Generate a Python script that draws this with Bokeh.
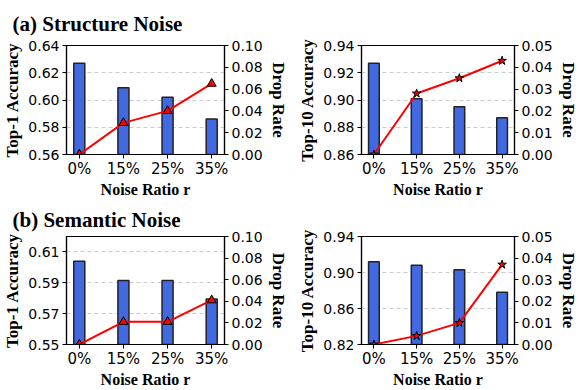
from bokeh.plotting import figure
from bokeh.models import Range1d, LinearAxis, FixedTicker, NumeralTickFormatter, ColumnDataSource, Title
from bokeh.layouts import column, row
from bokeh.embed import file_html
from bokeh.resources import INLINE

ratios = ["0%", "15%", "25%", "35%"]
struct_top1 = [0.627, 0.609, 0.602, 0.586]
struct_top1_drop = [0.0, 0.029, 0.040, 0.065]
struct_top10 = [0.927, 0.901, 0.895, 0.887]
struct_top10_drop = [0.0, 0.028, 0.035, 0.043]
sem_top1 = [0.604, 0.5915, 0.5915, 0.5795]
sem_top1_drop = [0.0, 0.021, 0.021, 0.041]
sem_top10 = [0.912, 0.908, 0.903, 0.878]
sem_top10_drop = [0.0, 0.004, 0.010, 0.037]

struct_top1_ticks = [0.56, 0.58, 0.60, 0.62, 0.64]
struct_top10_ticks = [0.86, 0.88, 0.90, 0.92, 0.94]
sem_top1_ticks = [0.55, 0.57, 0.59, 0.61]
sem_top10_ticks = [0.82, 0.86, 0.90, 0.94]
drop_ticks_1 = [0.0, 0.02, 0.04, 0.06, 0.08, 0.10]
drop_ticks_10 = [0.0, 0.01, 0.02, 0.03, 0.04, 0.05]

SERIF = "Liberation Serif"
SANS = "DejaVu Sans"


def panel(acc, drop, ylabel, ylo, yhi, yticks, dmax, dticks, marker, title,
          height, bl, br, bt, bb, tstand):
    xs = list(range(len(ratios)))
    src = ColumnDataSource(dict(x=xs, acc=acc, drop=drop))
    p = figure(width=290, height=height, output_backend="svg", toolbar_location=None,
               x_range=Range1d(-0.29, 3.29), y_range=Range1d(ylo, yhi),
               min_border_left=bl, min_border_right=br, min_border_top=bt,
               min_border_bottom=bb)
    p.extra_y_ranges = {"drop": Range1d(0, dmax)}
    p.vbar(x="x", top="acc", bottom=0, width=0.25, source=src,
           fill_color="#4169E1", line_color="#222222", line_width=1.5)
    p.line(x="x", y="drop", source=src, y_range_name="drop",
           line_color="#FF0000", line_width=2)
    p.scatter(x="x", y="drop", source=src, y_range_name="drop", marker=marker,
              size=9, fill_color="#FF0000", line_color="#000000", line_width=1)

    p.xaxis.ticker = FixedTicker(ticks=xs)
    p.xaxis.major_label_overrides = {i: r for i, r in enumerate(ratios)}
    p.xaxis.axis_label = "Noise Ratio r"
    p.yaxis.ticker = FixedTicker(ticks=yticks)
    p.yaxis.formatter = NumeralTickFormatter(format="0.00")
    p.yaxis.axis_label = ylabel

    ax2 = LinearAxis(y_range_name="drop", ticker=FixedTicker(ticks=dticks),
                     formatter=NumeralTickFormatter(format="0.00"),
                     axis_label="Drop Rate")
    p.add_layout(ax2, "right")

    for ax in p.xaxis + p.yaxis + [ax2]:
        ax.major_label_text_font = SANS
        ax.major_label_text_font_size = "14px"
        ax.major_label_text_color = "#000000"
        ax.axis_label_text_font = SERIF
        ax.axis_label_text_font_style = "bold"
        ax.axis_label_text_font_size = "17px"
        ax.axis_label_text_color = "#000000"
        ax.axis_line_color = "#000000"
        ax.axis_line_width = 1.2
        ax.major_tick_line_color = "#000000"
        ax.major_tick_in = 0
        ax.major_tick_out = 4
        ax.minor_tick_line_color = None
        ax.major_label_standoff = 3
        ax.axis_label_standoff = 3
    p.xaxis.major_label_text_font_size = "15px"
    p.xaxis.major_label_standoff = 1
    p.xaxis.axis_label_standoff = 0
    p.xaxis.axis_label_text_font_size = "16px"

    p.xgrid.grid_line_color = None
    p.ygrid.ticker = FixedTicker(ticks=yticks)
    p.ygrid.grid_line_color = "#cccccc"
    p.ygrid.grid_line_dash = "4 3"
    p.ygrid.grid_line_width = 1
    p.outline_line_color = "#000000"
    p.outline_line_width = 1.2
    p.background_fill_color = "white"
    p.border_fill_color = "white"

    if title:
        p.add_layout(Title(text=title, text_font=SERIF, text_font_style="bold",
                           text_color="#000000", text_font_size="21px",
                           align="left", offset=-54, standoff=tstand), "above")
    return p


a1 = panel(struct_top1, struct_top1_drop, "Top-1 Accuracy", 0.56, 0.64,
           struct_top1_ticks, 0.10, drop_ticks_1, "triangle", "(a) Structure Noise",
           200, 64, 62, 44, 46, 19)
a2 = panel(struct_top10, struct_top10_drop, "Top-10 Accuracy", 0.86, 0.94,
           struct_top10_ticks, 0.05, drop_ticks_10, "star", None,
           200, 71, 50, 44, 46, 0)
b1 = panel(sem_top1, sem_top1_drop, "Top-1 Accuracy", 0.55, 0.62,
           sem_top1_ticks, 0.10, drop_ticks_1, "triangle", "(b) Semantic Noise",
           190, 64, 62, 36, 46, 9)
b2 = panel(sem_top10, sem_top10_drop, "Top-10 Accuracy", 0.82, 0.94,
           sem_top10_ticks, 0.05, drop_ticks_10, "star", None,
           190, 71, 50, 36, 46, 0)

layout = column(row(a1, a2, spacing=0), row(b1, b2, spacing=0), spacing=0)
open("out.html", "w").write(file_html(layout, INLINE))
